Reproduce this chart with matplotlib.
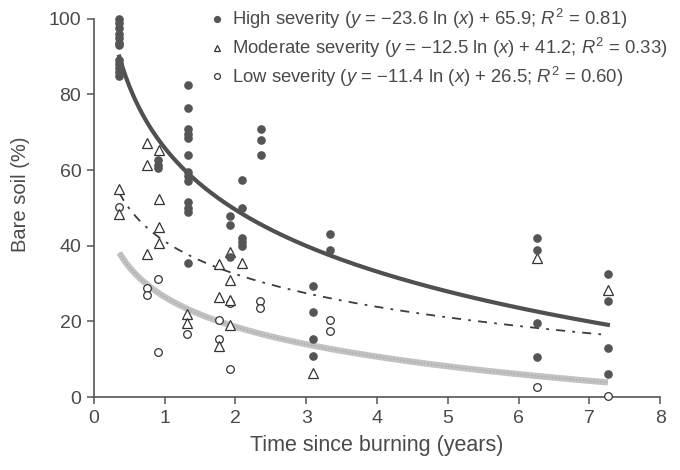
import numpy as np
import matplotlib
matplotlib.use("Agg")
import matplotlib.pyplot as plt
from matplotlib.lines import Line2D

plt.rcParams["font.family"] = ["Liberation Sans", "DejaVu Sans"]
plt.rcParams["mathtext.fontset"] = "custom"
plt.rcParams["mathtext.rm"] = "Liberation Sans"
plt.rcParams["mathtext.it"] = "Liberation Sans:italic"

TEXT = "#4a4a4a"
DARK = "#555555"

# observed bare soil (%) by time since burning (years)
high_x = [0.36] * 12 + [0.91] * 3 + [1.33] * 13 + [1.92] * 3 + [2.09] * 5 + [2.36] * 3 \
    + [3.09] * 4 + [3.34] * 2 + [6.26] * 4 + [7.26] * 4
high_y = [100, 99, 97.5, 96, 95, 93.5, 93, 89, 88, 87, 86, 85,
          62.7, 61.4, 60.5,
          82.5, 76.5, 71, 69.5, 68.5, 64, 59.5, 58.5, 57, 51.5, 50, 49, 35.5,
          48, 45.5, 37,
          57.5, 50, 42, 41, 40,
          71, 68, 64,
          29.5, 22.5, 15.5, 11,
          43, 39,
          42, 39, 19.5, 10.5,
          32.5, 25.5, 13, 6]

mod_x = [0.36] * 2 + [0.75] * 3 + [0.92] * 4 + [1.32] * 2 + [1.77] * 3 + [1.92] * 4 \
    + [2.09, 3.09, 6.26, 7.26]
mod_y = [55, 48.5,
         67.3, 61.4, 37.8,
         65.3, 52.3, 45, 40.8,
         22, 19.5,
         35.2, 26.5, 13.5,
         38.4, 31, 25.8, 19,
         35.4, 6.4, 36.7, 28.3]

low_x = [0.36, 0.75, 0.75, 0.9, 0.9, 1.32, 1.77, 1.77, 1.92, 1.92,
         2.34, 2.34, 3.33, 3.33, 6.26, 7.26]
low_y = [50.3, 28.8, 27, 31.1, 12, 16.8, 20.4, 15.5, 24.8, 7.4,
         25.5, 23.5, 20.5, 17.5, 2.6, 0.3]

# fitted log curves: y = slope * ln(x) + intercept
fit_slope = {"high": -23.6, "mod": -12.5, "low": -11.4}
fit_intercept = {"high": 65.9, "mod": 41.2, "low": 26.5}
fit_r2 = {"high": 0.81, "mod": 0.33, "low": 0.60}
fit_range = (0.36, 7.26)

fig = plt.figure(figsize=(6.8, 4.7), dpi=100)
ax = fig.add_axes([0.138, 0.155, 0.833, 0.805])

xf = np.linspace(fit_range[0], fit_range[1], 300)
ax.plot(xf, fit_slope["low"] * np.log(xf) + fit_intercept["low"],
        color="#c2c2c2", lw=4.5, solid_capstyle="butt", zorder=2)
ax.plot(xf, fit_slope["low"] * np.log(xf) + fit_intercept["low"],
        color="#a8a8a8", lw=1, ls=(0, (1, 1.5)), zorder=2)
ax.plot(xf, fit_slope["mod"] * np.log(xf) + fit_intercept["mod"],
        color="#3c3c3c", lw=1.3, ls=(0, (5, 4, 1.5, 4)), zorder=2)
ax.plot(xf, fit_slope["high"] * np.log(xf) + fit_intercept["high"],
        color="#505050", lw=3, zorder=2)

ax.plot(low_x, low_y, "o", ms=5.5, mfc="white", mec="#333333", mew=0.9,
        ls="none", zorder=3, clip_on=False)
ax.plot(mod_x, mod_y, "^", ms=6.5, mfc="white", mec="#333333", mew=0.9,
        ls="none", zorder=3, clip_on=False)
ax.plot(high_x, high_y, "o", ms=5.2, mfc=DARK, mec=DARK,
        ls="none", zorder=4, clip_on=False)

ax.set_xlim(0, 8)
ax.set_ylim(0, 100)
ax.set_xticks(range(0, 9))
ax.set_yticks(range(0, 101, 20))
for s in ("top", "right"):
    ax.spines[s].set_visible(False)
for s in ("left", "bottom"):
    ax.spines[s].set_color(DARK)
    ax.spines[s].set_linewidth(1.2)
ax.tick_params(direction="out", length=5, width=1.1, color=DARK,
               labelcolor=TEXT, labelsize=14, pad=4)
ax.set_xlabel("Time since burning (years)", fontsize=15.5, color=TEXT, labelpad=6)
ax.set_ylabel("Bare soil (%)", fontsize=14.5, color=TEXT)
ax.yaxis.set_label_coords(-0.112, 0.535)


def label(name, key):
    return (f"{name} ($y$ = \u2212{abs(fit_slope[key]):.1f} ln ($x$) + "
            f"{fit_intercept[key]:.1f}; $R^2$ = {fit_r2[key]:.2f})")


handles = [
    Line2D([], [], marker="o", ls="none", ms=4.2, mfc=DARK, mec=DARK),
    Line2D([], [], marker="^", ls="none", ms=5, mfc="white", mec="#333333", mew=0.9),
    Line2D([], [], marker="o", ls="none", ms=4.2, mfc="white", mec="#333333", mew=0.9),
]
labels = [label("High severity", "high"), label("Moderate severity", "mod"),
          label("Low severity", "low")]
leg = ax.legend(handles, labels, loc="upper left", bbox_to_anchor=(0.191, 1.05),
                frameon=False, fontsize=13.3, handlelength=0.8, handletextpad=0.42,
                labelspacing=0.25, borderaxespad=0)
for t in leg.get_texts():
    t.set_color(TEXT)

fig.savefig("out.png", dpi=100)
